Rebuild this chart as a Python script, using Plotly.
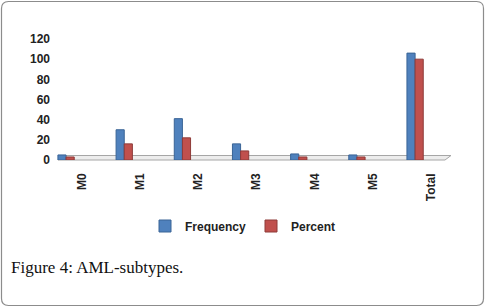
import plotly.graph_objects as go

categories = ["M0", "M1", "M2", "M3", "M4", "M5", "Total"]
frequency = [5, 30, 41, 16, 6, 5, 106]
percent = [3, 16, 22, 9, 3, 3, 100]
y_ticks = [0, 20, 40, 60, 80, 100, 120]

W, H = 485, 307
L, R, T, B = 30, 35, 39, 147
pw, ph = W - L - R, H - T - B

def px(x):
    return (x - L) / pw

def py(y):
    return (H - B - y) / ph

fig = go.Figure()
fig.add_trace(go.Bar(x=categories, y=frequency, name="Frequency",
                     marker=dict(color="#4F81BD", line=dict(color="#3A6496", width=1))))
fig.add_trace(go.Bar(x=categories, y=percent, name="Percent",
                     marker=dict(color="#C0504D", line=dict(color="#8E3B39", width=1))))

# floor plane
floor = (f"M {px(58)},{py(160)} L {px(445)},{py(160)} L {px(451)},{py(155.5)} "
         f"L {px(64)},{py(155.5)} Z")
shapes = [dict(type="path", xref="paper", yref="paper", path=floor,
               fillcolor="#EDEDED", line=dict(color="#A6A6A6", width=1), layer="below")]

# rounded outer border
x0, x1, y0, y1, r = 1.5, 483.5, 1.5, 305.5, 7
border = (f"M {px(x0 + r)},{py(y0)} L {px(x1 - r)},{py(y0)} "
          f"Q {px(x1)},{py(y0)} {px(x1)},{py(y0 + r)} "
          f"L {px(x1)},{py(y1 - r)} Q {px(x1)},{py(y1)} {px(x1 - r)},{py(y1)} "
          f"L {px(x0 + r)},{py(y1)} Q {px(x0)},{py(y1)} {px(x0)},{py(y1 - r)} "
          f"L {px(x0)},{py(y0 + r)} Q {px(x0)},{py(y0)} {px(x0 + r)},{py(y0)} Z")
shapes.append(dict(type="path", xref="paper", yref="paper", path=border,
                   line=dict(color="#8C8C8C", width=1.2), layer="below"))

tick_font = dict(family="Liberation Sans", size=12, color="#222222", weight="bold")

fig.update_layout(
    width=W, height=H,
    margin=dict(l=L, r=R, t=T, b=B),
    paper_bgcolor="white", plot_bgcolor="white",
    barmode="group", bargap=0.72, bargroupgap=0,
    showlegend=True,
    legend=dict(orientation="h", x=px(243), xanchor="center", y=py(226), yanchor="middle",
                font=dict(family="Liberation Sans", size=12, color="#222222", weight="bold"),
                itemwidth=30, traceorder="normal"),
    xaxis=dict(type="category", range=[-0.62, 6.6], showgrid=False, showline=False,
               zeroline=False, tickangle=-90, ticks="", ticklabelstandoff=10,
               ticklabelshift=16, tickfont=tick_font),
    yaxis=dict(range=[0, 120], tickvals=y_ticks, showgrid=False, showline=False,
               anchor="free", position=px(60),
               zeroline=False, ticks="", ticklabelstandoff=10, tickfont=tick_font),
    shapes=shapes,
    annotations=[dict(text="Figure 4: AML-subtypes.", xref="paper", yref="paper",
                      x=px(9), y=py(267), xanchor="left", yanchor="middle", showarrow=False,
                      font=dict(family="Liberation Serif", size=17, color="#111111"))],
)

fig.write_html("out.html", post_script="document.body.style.margin='0';",
               config={"displayModeBar": False})
